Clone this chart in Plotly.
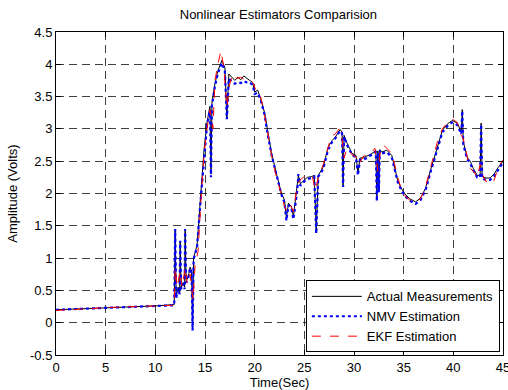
import plotly.graph_objects as go

# ---- data ----
t_actual = [0, 2, 4, 6, 8, 10, 11.9, 12.0, 12.1, 12.3, 12.45, 12.5, 12.6, 12.8, 12.95, 13.0, 13.1, 13.3, 13.5, 13.65,
            13.75, 13.85, 14.2, 14.5, 14.7, 14.9, 15.2, 15.5, 15.6, 15.7, 16.0, 16.3, 16.7, 17.0, 17.2, 17.4, 17.7,
            18.0, 18.3, 18.6, 18.9, 19.2, 19.5, 19.8, 20.0, 20.3, 20.6, 21.0, 21.3, 21.7, 22.2, 22.7, 23.0, 23.2,
            23.4, 23.7, 23.9, 24.1, 24.3, 24.4, 24.6, 24.9, 25.3, 25.7, 26.0, 26.2, 26.4, 26.9, 27.4, 27.8, 28.1,
            28.6, 28.8, 28.9, 29.0, 29.3, 29.8, 30.2, 30.4, 30.6, 30.9, 31.3, 31.6, 32.0, 32.2, 32.3, 32.4, 32.5,
            32.6, 32.8, 33.3, 33.8, 34.1, 34.4, 34.8, 35.2, 35.6, 36.2, 36.7, 37.2, 37.7, 38.1, 38.4, 38.9, 39.5,
            39.9, 40.4, 40.8, 40.9, 41.0, 41.4, 41.7, 42.0, 42.4, 42.7, 42.8, 42.9, 43.3, 43.7, 44.1, 44.5, 45]
actual = [0.20, 0.21, 0.23, 0.24, 0.25, 0.26, 0.28, 1.43, 0.40, 0.55, 0.45, 1.25, 0.55, 0.62, 0.55, 1.43, 0.65, 0.70,
          0.86, 0.80, -0.10, 1.00, 1.20, 1.80, 2.20, 2.67, 3.10, 3.35, 2.30, 3.40, 3.70, 3.90, 4.06, 3.95, 3.18, 3.85,
          3.80, 3.75, 3.80, 3.76, 3.82, 3.78, 3.75, 3.72, 3.57, 3.60, 3.47, 3.25, 2.95, 2.62, 2.30, 2.00, 1.90, 1.62,
          1.85, 1.80, 1.64, 1.90, 2.10, 2.28, 2.15, 2.20, 2.25, 2.26, 2.28, 1.40, 2.28, 2.41, 2.72, 2.82, 2.87, 2.99,
          2.95, 2.13, 2.90, 2.78, 2.62, 2.59, 2.31, 2.55, 2.55, 2.58, 2.60, 2.64, 2.67, 1.90, 2.66, 2.05, 2.68, 2.64,
          2.67, 2.59, 2.41, 2.20, 2.07, 1.98, 1.92, 1.87, 1.93, 2.08, 2.36, 2.55, 2.72, 2.98, 3.09, 3.13, 3.09, 2.95,
          3.30, 2.80, 2.56, 2.50, 2.39, 2.28, 2.28, 3.09, 2.26, 2.24, 2.24, 2.30, 2.40, 2.50]

t_nmv = t_actual
nmv = [0.20, 0.21, 0.22, 0.24, 0.25, 0.26, 0.27, 1.45, 0.38, 0.52, 0.44, 1.27, 0.52, 0.60, 0.52, 1.45, 0.62, 0.68,
       0.84, 0.78, -0.12, 0.98, 1.17, 1.78, 2.15, 2.62, 3.05, 3.30, 2.25, 3.36, 3.66, 3.86, 4.02, 3.90, 3.15, 3.78,
       3.73, 3.70, 3.72, 3.71, 3.74, 3.72, 3.72, 3.68, 3.54, 3.56, 3.45, 3.22, 2.92, 2.60, 2.28, 1.98, 1.86, 1.58,
       1.82, 1.76, 1.60, 1.86, 2.06, 2.30, 2.12, 2.18, 2.22, 2.24, 2.26, 1.38, 2.26, 2.38, 2.68, 2.80, 2.85, 2.97,
       2.93, 2.10, 2.88, 2.75, 2.60, 2.56, 2.28, 2.52, 2.52, 2.55, 2.58, 2.62, 2.65, 1.88, 2.64, 2.02, 2.66, 2.62,
       2.64, 2.56, 2.38, 2.18, 2.04, 1.95, 1.89, 1.84, 1.90, 2.05, 2.33, 2.52, 2.69, 2.95, 3.06, 3.10, 3.06, 2.92,
       3.28, 2.76, 2.53, 2.47, 2.36, 2.25, 2.25, 3.07, 2.23, 2.21, 2.21, 2.27, 2.37, 2.48]

t_ekf = [0, 2, 4, 6, 8, 10, 11.9, 12.0, 12.2, 12.5, 12.7, 13.0, 13.2, 13.5, 13.8, 14.0, 14.3, 14.6, 14.9, 15.2, 15.5,
         15.8, 16.0, 16.3, 16.6, 16.9, 17.2, 17.5, 17.8, 18.2, 18.6, 19.0, 19.5, 19.9, 20.2, 20.6, 21.0, 21.4, 21.8,
         22.2, 22.7, 23.0, 23.3, 23.6, 23.9, 24.2, 24.5, 24.9, 25.3, 25.8, 26.1, 26.4, 26.9, 27.3, 27.7, 28.1, 28.5,
         28.8, 29.0, 29.3, 29.8, 30.2, 30.5, 30.9, 31.3, 31.7, 32.1, 32.4, 32.7, 33.0, 33.3, 33.8, 34.1, 34.4, 34.8,
         35.2, 35.6, 36.2, 36.7, 37.2, 37.7, 38.1, 38.4, 38.9, 39.5, 39.9, 40.4, 40.8, 41.0, 41.3, 41.6, 42.0, 42.4,
         42.7, 42.9, 43.3, 43.7, 44.1, 44.5, 45]
ekf = [0.19, 0.21, 0.22, 0.24, 0.25, 0.26, 0.27, 0.85, 0.55, 0.80, 0.55, 0.85, 0.60, 0.75, 0.35, 0.90, 1.10, 1.90,
       2.60, 3.00, 3.30, 3.00, 3.75, 4.00, 4.21, 3.95, 3.33, 3.70, 3.85, 3.78, 3.80, 3.76, 3.76, 3.70, 3.55, 3.50,
       3.22, 2.85, 2.50, 2.25, 1.95, 1.80, 1.72, 1.82, 1.72, 2.05, 2.20, 2.25, 2.28, 2.27, 2.05, 2.25, 2.45, 2.65,
       2.88, 2.92, 3.00, 2.85, 2.55, 2.70, 2.60, 2.57, 2.45, 2.57, 2.60, 2.62, 2.70, 2.35, 2.70, 2.75, 2.70, 2.62,
       2.45, 2.25, 2.05, 1.95, 1.90, 1.86, 1.92, 2.10, 2.40, 2.62, 2.80, 3.00, 3.12, 3.15, 3.10, 2.90, 2.85, 2.65,
       2.40, 2.35, 2.25, 2.45, 2.30, 2.18, 2.25, 2.20, 2.40, 2.52]

x_ticks = [0, 5, 10, 15, 20, 25, 30, 35, 40, 45]
y_ticks = [-0.5, 0, 0.5, 1, 1.5, 2, 2.5, 3, 3.5, 4, 4.5]
y_tick_labels = ["-0.5", "0", "0.5", "1", "1.5", "2", "2.5", "3", "3.5", "4", "4.5"]

FONT = "Liberation Sans, Arial, sans-serif"

fig = go.Figure()
fig.add_trace(go.Scatter(x=t_actual, y=actual, mode="lines", name="Actual Measurements",
                         line=dict(color="black", width=1)))
fig.add_trace(go.Scatter(x=t_nmv, y=nmv, mode="lines", name="NMV Estimation",
                         line=dict(color="#0000ff", width=2.2, dash="dot")))
fig.add_trace(go.Scatter(x=t_ekf, y=ekf, mode="lines", name="EKF Estimation",
                         line=dict(color="#ff0000", width=1, dash="dash")))

axis_common = dict(showline=True, linecolor="black", linewidth=1, mirror="ticks", ticks="inside",
                   ticklen=5, tickcolor="black", showgrid=True, gridcolor="rgba(0,0,0,0.75)",
                   griddash="8px,5px", gridwidth=1, zeroline=False, ticklabeloverflow="allow",
                   tickfont=dict(family=FONT, size=13, color="black"))

fig.update_xaxes(range=[0, 45], tickvals=x_ticks, **axis_common,
                 title=dict(text="Time(Sec)", font=dict(family=FONT, size=13, color="black"), standoff=0))
fig.update_yaxes(range=[-0.5, 4.5], tickvals=y_ticks, ticktext=y_tick_labels, **axis_common,
                 title=dict(text="Amplitude (Volts)", font=dict(family=FONT, size=13, color="black"), standoff=9))

fig.update_layout(
    width=508, height=390,
    margin=dict(l=56, r=5, t=32, b=35, autoexpand=False),
    paper_bgcolor="white", plot_bgcolor="white",
    title=dict(text="Nonlinear Estimators Comparision", x=0.548, xanchor="center", y=0.962, yanchor="middle",
               font=dict(family=FONT, size=13, color="black")),
    legend=dict(x=0.993, y=0.008, xanchor="right", yanchor="bottom", bgcolor="white", bordercolor="black",
                borderwidth=1, font=dict(family=FONT, size=13, color="black"), tracegroupgap=0,
                itemwidth=50),
    showlegend=True,
)

fig.write_html("out.html", config={"displayModeBar": False},
               post_script="document.body.style.margin='0';document.body.style.overflow='hidden';")
